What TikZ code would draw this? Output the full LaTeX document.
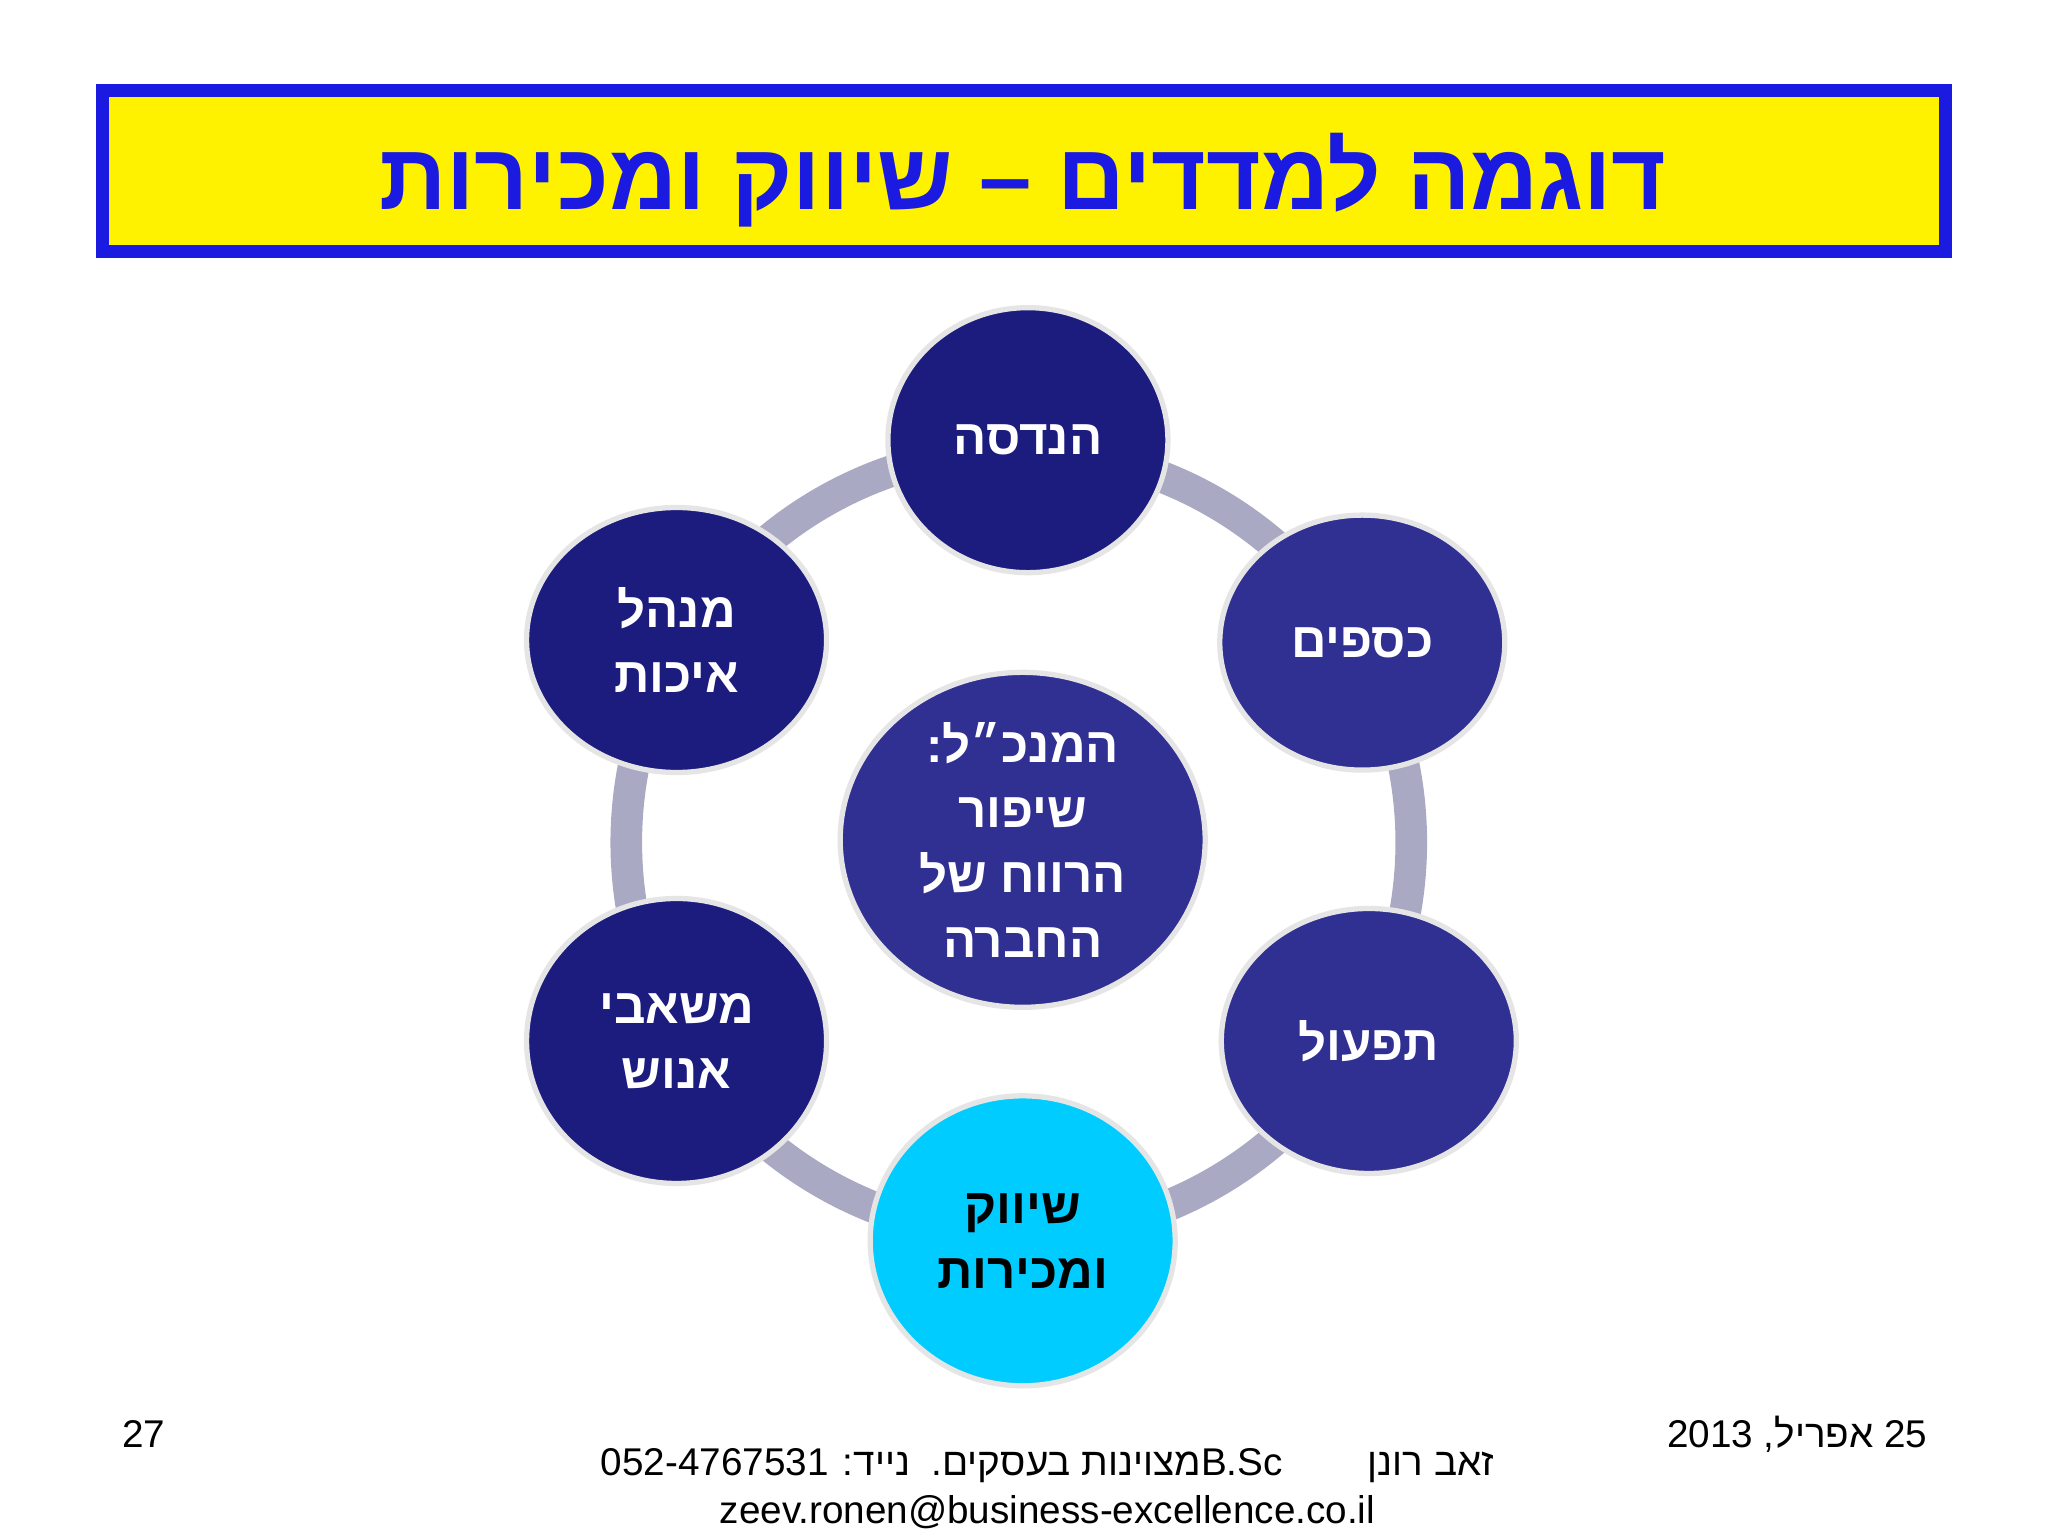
\documentclass[tikz,border=0pt]{standalone}
\usepackage{fontspec}
\setmainfont{Liberation Sans}
\newfontfamily\heb[Script=Hebrew]{Liberation Sans}
\TeXXeTstate=1
\usetikzlibrary{shapes.geometric}
\definecolor{navy}{HTML}{1C1C7E}
\definecolor{mid}{HTML}{303092}
\definecolor{cyanb}{HTML}{00CCFF}
\definecolor{ttl}{HTML}{1A1AE0}
\definecolor{ringc}{HTML}{A9A9C4}
\tikzset{
 ball/.style={ellipse,draw=white!80!gray,line width=1.5pt,text=white,font=\heb\bfseries\fontsize{14}{18.5}\selectfont,align=center,inner sep=0pt},
}
\begin{document}
\begin{tikzpicture}[x=0.013061cm,y=-0.013061cm]
\useasboundingbox (0,0) rectangle (1568,1176);
\fill[white] (0,0) rectangle (1568,1176);
\node[draw=ttl,line width=3.5pt,fill=yellow,minimum width=18.43cm,minimum height=1.61cm] (title) at (784,131) {};
\node[text=ttl,font=\heb\bfseries\fontsize{26.7}{32}\selectfont] (tt) at (783,138) {\beginR דוגמה למדדים – שיווק ומכירות\endR};
\node[circle,draw=ringc,line width=9pt,minimum size=7.85cm] (ring) at (780,645) {};
\node[ball,fill=mid,minimum width=3.65cm,minimum height=3.35cm] (c) at (783,643) {\beginR המנכ״ל:\endR\\\beginR שיפור\endR\\\beginR הרווח של\endR\\\beginR החברה\endR};
\node[ball,fill=navy,minimum width=2.8cm,minimum height=2.65cm] (n1) at (787,337) {\beginR הנדסה\endR};
\node[ball,fill=mid,minimum width=2.85cm,minimum height=2.55cm] (n2) at (1043,492) {\beginR כספים\endR};
\node[ball,fill=mid,minimum width=2.95cm,minimum height=2.65cm] (n3) at (1048,797) {\beginR תפעול\endR};
\node[ball,fill=cyanb,text=black,minimum width=3.05cm,minimum height=2.9cm] (n4) at (783,950) {\beginR שיווק\endR\\\beginR ומכירות\endR};
\node[ball,fill=navy,minimum width=3.0cm,minimum height=2.85cm] (n5) at (518,797) {\beginR משאבי\endR\\\beginR אנוש\endR};
\node[ball,fill=navy,minimum width=3.0cm,minimum height=2.65cm] (n6) at (518,490) {\beginR מנהל\endR\\\beginR איכות\endR};
\node[font=\fontsize{11}{13}\selectfont] (pg) at (110,1098) {27};
\node[font=\heb\fontsize{11}{13}\selectfont] (dt) at (1376,1098) {\beginR\beginL25\endL{} אפריל, \beginL2013\endL\endR};
\node[font=\heb\fontsize{11}{13}\selectfont] (f1) at (802,1122) {\beginR זאב רונן\hspace{2.2em}\beginL B.Sc\endL מצוינות בעסקים.\ \ נייד: \beginL052-4767531\endL\endR};
\node[font=\fontsize{11}{13}\selectfont] (f2) at (802,1158) {zeev.ronen@business-excellence.co.il};
\end{tikzpicture}
\end{document}
